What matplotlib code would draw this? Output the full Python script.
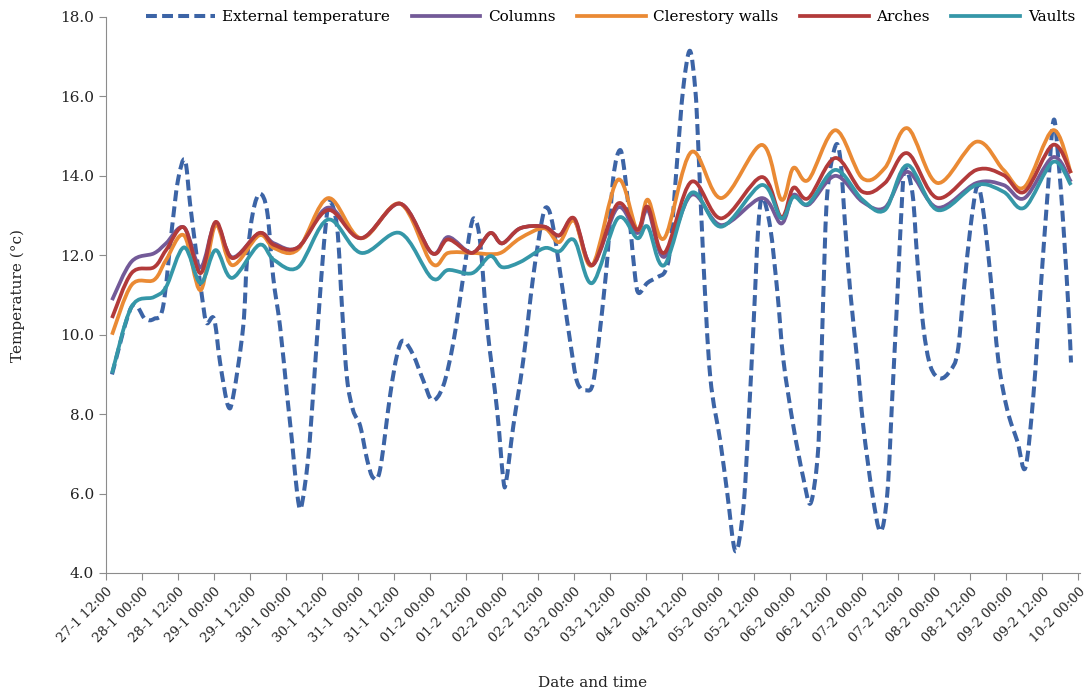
import matplotlib.pyplot as plt
from matplotlib.path import Path
from matplotlib.patches import PathPatch

# Tick labels every 12 hours, starting 27-1 12:00
tick_labels = [
    "27-1 12:00", "28-1 00:00", "28-1 12:00", "29-1 00:00", "29-1 12:00",
    "30-1 00:00", "30-1 12:00", "31-1 00:00", "31-1 12:00", "01-2 00:00",
    "01-2 12:00", "02-2 00:00", "02-2 12:00", "03-2 00:00", "03-2 12:00",
    "04-2 00:00", "04-2 12:00", "05-2 00:00", "05-2 12:00", "06-2 00:00",
    "06-2 12:00", "07-2 00:00", "07-2 12:00", "08-2 00:00", "08-2 12:00",
    "09-2 00:00", "09-2 12:00", "10-2 00:00",
]
tick_hours = [12 * i for i in range(len(tick_labels))]

# External temperature (hours after 27-1 12:00, degrees)
ext_hours = [
    2, 8.5, 13, 16, 19, 22, 24, 26.3, 28, 30, 32, 33.5, 36, 38, 40.7, 42.5,
    45.7, 47, 49, 51.3, 53.7, 55.7, 58, 60.3, 62, 63.7, 65, 67.3, 69, 71.3,
    73, 74.5, 77, 78.7, 80.3, 82.3, 84.7, 87, 89, 91.3, 94.7, 97, 99, 102.3,
    105.7, 108.7, 112.3, 115.7, 119, 121.5, 123, 124.7, 127, 130.3, 132.3,
    133.3, 135.7, 139, 142.3, 145.3, 147, 149, 152.3, 154.7, 157, 160, 162.3,
    164.7, 167, 169, 171.3, 173, 174.7, 176.3, 177.5, 180.3, 183.7, 186.3,
    188, 190.3, 192.3, 194.5, 196.3, 197.3, 199, 201.3, 204.7, 207, 209.7,
    212.3, 214, 215.7, 217.3, 218.7, 221.3, 223.7, 225.7, 229, 232.3, 234.7,
    237, 238, 239, 240.3, 243, 244.7, 246.3, 248, 250.3, 252.3, 255.3, 258,
    260.3, 262, 263.7, 265.3, 266.3, 268.7, 270.3, 272.3, 274.7, 278, 281.3,
    283.7, 285.7, 288, 290.3, 292.3, 294.7, 297.3, 300.3, 303.7, 306.3, 309,
    311.3, 313.7, 315.7, 317.3, 319, 320.7, 321.5,
]
ext_temp = [
    9.0, 10.7, 10.4, 10.4, 10.7, 12.7, 13.9, 14.4, 13.3, 12.1, 10.95, 10.3,
    10.4, 9.3, 8.2, 8.5, 10.2, 11.9, 13.1, 13.55, 13.1, 11.45, 10.2, 8.5, 7.3,
    6.0, 5.65, 6.85, 8.5, 11.0, 12.6, 13.35, 12.7, 10.6, 8.9, 8.1, 7.7, 6.85,
    6.4, 6.6, 8.5, 9.5, 9.85, 9.5, 8.85, 8.35, 8.7, 9.8, 11.45, 12.7, 12.9,
    12.3, 10.2, 8.1, 6.4, 6.3, 7.7, 9.35, 11.45, 12.9, 13.2, 12.7, 11.05, 9.8,
    8.8, 8.6, 8.8, 10.2, 11.9, 13.95, 14.65, 13.95, 12.7, 11.45, 11.05, 11.3,
    11.45, 11.6, 12.2, 14.4, 16.2, 17.15, 16.2, 14.8, 11.9, 8.95, 7.3, 6.0,
    4.55, 5.6, 7.7, 10.2, 12.7, 13.45, 12.7, 11.05, 9.35, 7.7, 6.4, 5.75,
    6.85, 8.5, 11.05, 13.55, 14.75, 14.4, 12.7, 11.05, 9.35, 7.7, 6.0, 5.05,
    6.0, 8.5, 11.05, 13.55, 14.2, 13.55, 11.9, 10.2, 9.2, 8.9, 9.1, 9.55,
    11.05, 12.7, 13.75, 13.1, 11.45, 9.35, 8.1, 7.3, 6.65, 8.5, 11.05, 13.55,
    15.4, 14.4, 12.7, 10.6, 9.3,
]

# Interior surfaces, shared time stamps
int_hours = [
    2, 8.5, 16, 20, 26, 31.5, 36.5, 42, 51, 56, 64, 74, 85, 98, 108.5, 114,
    122, 128, 132, 138, 146, 151, 156, 162, 170.5, 177, 180.5, 186, 195, 205,
    218.5, 225, 229, 234, 243, 252, 259.5, 267, 277, 290, 299, 306, 315.5,
    321.5,
]
columns = [
    10.87, 11.84, 12.05, 12.3, 12.7, 11.7, 12.8, 11.95, 12.55, 12.3, 12.2,
    13.2, 12.43, 13.3, 12.06, 12.46, 12.06, 12.56, 12.3, 12.68, 12.72, 12.5,
    12.89, 11.75, 13.2, 12.56, 13.14, 11.96, 13.52, 12.76, 13.44, 12.8, 13.52,
    13.27, 14.0, 13.35, 13.2, 14.1, 13.2, 13.82, 13.77, 13.44, 14.47, 13.85,
]
clerestory = [
    10.0, 11.25, 11.38, 11.88, 12.5, 11.12, 12.76, 11.75, 12.5, 12.18, 12.15,
    13.44, 12.43, 13.3, 11.8, 12.06, 12.06, 12.03, 12.08, 12.43, 12.68, 12.33,
    12.87, 11.75, 13.9, 12.64, 13.4, 12.43, 14.6, 13.44, 14.78, 13.4, 14.2,
    13.9, 15.15, 13.94, 14.2, 15.2, 13.82, 14.86, 14.15, 13.72, 15.15, 14.07,
]
arches = [
    10.42, 11.55, 11.7, 12.13, 12.7, 11.55, 12.84, 11.93, 12.56, 12.26, 12.2,
    13.14, 12.43, 13.3, 12.06, 12.4, 12.06, 12.56, 12.3, 12.68, 12.72, 12.5,
    12.93, 11.75, 13.3, 12.64, 13.22, 12.06, 13.85, 12.93, 13.97, 12.96, 13.7,
    13.44, 14.45, 13.6, 13.82, 14.57, 13.44, 14.15, 14.02, 13.6, 14.78, 14.07,
]
vaults = [
    9.03, 10.7, 10.95, 11.2, 12.2, 11.3, 12.13, 11.43, 12.26, 11.88, 11.7,
    12.9, 12.06, 12.56, 11.43, 11.63, 11.55, 11.98, 11.7, 11.83, 12.18, 12.1,
    12.38, 11.3, 12.93, 12.43, 12.72, 11.75, 13.57, 12.72, 13.77, 12.93, 13.47,
    13.3, 14.15, 13.4, 13.14, 14.27, 13.14, 13.77, 13.6, 13.2, 14.35, 13.77,
]


def smooth_path(x, y):
    # Excel style "smoothed line": cubic Bezier through every data point
    verts = [(x[0], y[0])]
    codes = [Path.MOVETO]
    n = len(x)
    for i in range(n - 1):
        xa, ya = (x[i - 1], y[i - 1]) if i > 0 else (x[i], y[i])
        xb, yb = (x[i + 2], y[i + 2]) if i + 2 < n else (x[i + 1], y[i + 1])
        c1 = (x[i] + (x[i + 1] - xa) / 6, y[i] + (y[i + 1] - ya) / 6)
        c2 = (x[i + 1] - (xb - x[i]) / 6, y[i + 1] - (yb - y[i]) / 6)
        verts += [c1, c2, (x[i + 1], y[i + 1])]
        codes += [Path.CURVE4] * 3
    return Path(verts, codes)


def draw_series(ax, x, y, color, lw, label, dashes=None):
    ls = (0, dashes) if dashes else '-'
    ax.add_patch(PathPatch(smooth_path(x, y), fill=False, edgecolor=color,
                           lw=lw, linestyle=ls, joinstyle='round'))
    # empty line only for the legend entry
    if dashes:
        ax.plot([], [], color=color, lw=lw, dashes=dashes, label=label)
    else:
        ax.plot([], [], color=color, lw=lw, label=label)


plt.rcParams['font.family'] = 'DejaVu Serif'

fig = plt.figure(figsize=(10.88, 6.93), dpi=100)
ax = fig.add_axes([106 / 1088, 1 - 573 / 693, 974 / 1088, 556 / 693])

# Excel draws the series in order, so the dashed line sits underneath
draw_series(ax, ext_hours, ext_temp, '#3c64a6', 2.9, 'External temperature', dashes=(2.7, 1.3))
draw_series(ax, int_hours, columns, '#735a98', 2.7, 'Columns')
draw_series(ax, int_hours, clerestory, '#ea8a34', 2.7, 'Clerestory walls')
draw_series(ax, int_hours, arches, '#b23a3a', 2.7, 'Arches')
draw_series(ax, int_hours, vaults, '#3597a8', 2.7, 'Vaults')

ax.set_xlim(0, 324.5)
ax.set_ylim(4, 18)
ax.set_yticks([4, 6, 8, 10, 12, 14, 16, 18])
ax.set_yticklabels(['%.1f' % v for v in [4, 6, 8, 10, 12, 14, 16, 18]], fontsize=11)
ax.set_xticks(tick_hours)
ax.set_xticklabels(tick_labels, rotation=45, ha='right', rotation_mode='anchor', fontsize=9.5)

for side in ['top', 'right']:
    ax.spines[side].set_visible(False)
for side in ['left', 'bottom']:
    ax.spines[side].set_color('#8c8c8c')
ax.tick_params(colors='#8c8c8c', length=5, labelcolor='#222222')

ax.set_xlabel('Date and time', fontsize=11, color='#222222', labelpad=22)
ax.set_ylabel('Temperature (°c)', fontsize=11, color='#222222', labelpad=25)

ax.legend(loc='center', bbox_to_anchor=(0.518, 1.0), ncol=5, frameon=False,
          fontsize=11, handlelength=4.5, handletextpad=0.5, columnspacing=1.4)

plt.savefig('out.png', dpi=100)
